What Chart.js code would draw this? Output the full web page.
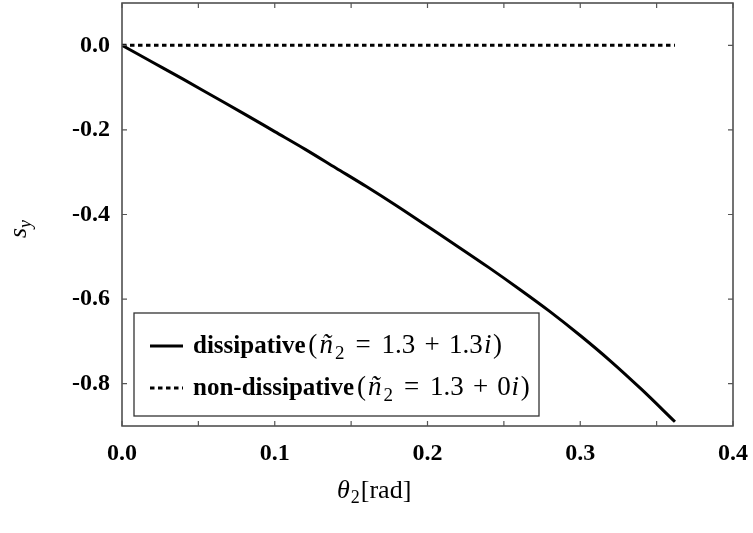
<!DOCTYPE html>
<html>
<head>
<meta charset="utf-8">
<script src="https://cdn.jsdelivr.net/npm/chart.js@4"></script>
<style>
  html, body { margin: 0; padding: 0; background: #fff; }
  #c { display: block; }
</style>
</head>
<body>
<canvas id="c" width="753" height="533"></canvas>
<script>
// ---- data ----
const thetaD = [0, 0.02, 0.04, 0.06, 0.08, 0.10, 0.12, 0.14, 0.16, 0.18, 0.20, 0.22, 0.24, 0.26, 0.28, 0.30, 0.32, 0.34, 0.362];
const sD     = [0, -0.040, -0.080, -0.121, -0.162, -0.204, -0.246, -0.290, -0.334, -0.380, -0.428, -0.476, -0.525, -0.576, -0.629, -0.686, -0.747, -0.813, -0.890];
const thetaN = [0, 0.362];
const sN     = [0, 0];
const seriesLabels = ['dissipative', 'non-dissipative'];
const seriesImag   = ['1.3', '0'];
const xTicks = [0, 0.1, 0.2, 0.3, 0.4];
const xMinorTicks = [0.05, 0.15, 0.25, 0.35];
const yTicks = [0, -0.2, -0.4, -0.6, -0.8];

const SERIF = '"Liberation Serif", "Times New Roman", serif';
const tickFont = { family: SERIF, size: 24, weight: 'bold' };

function drawRich(ctx, x, y, parts) {
  for (const p of parts) {
    x += (p.pre || 0);
    ctx.font = p.font;
    const w = ctx.measureText(p.text).width;
    if (p.box) {
      ctx.fillText(p.text, x + (p.box - w) / 2, y + (p.dy || 0));
      x += p.box + (p.post || 0);
    } else {
      ctx.fillText(p.text, x, y + (p.dy || 0));
      x += w + (p.post || 0);
    }
  }
  return x;
}

// math glyphs laid out in boxes of Computer-Modern-like widths
function mathParts(imag, fs) {
  const it = 'italic ' + fs + 'px ' + SERIF;
  const rm = fs + 'px ' + SERIF;
  const sub = Math.round(fs * 0.7) + 'px ' + SERIF;
  const thick = fs * 0.278, med = fs * 0.222;
  return [
    { text: '(', font: rm, box: fs * 0.389 },
    { text: 'ñ', font: it, box: fs * 0.6 },
    { text: '2', font: sub, dy: fs * 0.22, box: fs * 0.4 },
    { text: '=', font: rm, pre: thick, post: thick, box: fs * 0.778 },
    { text: '1.3', font: rm, box: fs * 1.278 },
    { text: '+', font: rm, pre: med, post: med, box: fs * 0.778 },
    { text: imag, font: rm, box: fs * (imag.length === 1 ? 0.5 : 1.278) },
    { text: 'i', font: it, box: fs * 0.345 },
    { text: ')', font: rm, box: fs * 0.389 }
  ];
}

const framePlugin = {
  id: 'frame',
  afterDraw(chart) {
    const ctx = chart.ctx;
    const ca = chart.chartArea;
    const xs = chart.scales.x, ys = chart.scales.y;
    ctx.save();
    // frame
    ctx.strokeStyle = '#444';
    ctx.lineWidth = 1.5;
    ctx.strokeRect(ca.left, ca.top, ca.right - ca.left, ca.bottom - ca.top);
    // inward ticks
    ctx.lineWidth = 1.2;
    ctx.strokeStyle = '#555';
    const tl = 5;
    ctx.beginPath();
    for (const v of xTicks.concat(xMinorTicks)) {
      const px = xs.getPixelForValue(v);
      ctx.moveTo(px, ca.bottom); ctx.lineTo(px, ca.bottom - tl);
      ctx.moveTo(px, ca.top); ctx.lineTo(px, ca.top + tl);
    }
    for (const v of yTicks) {
      const py = ys.getPixelForValue(v);
      ctx.moveTo(ca.left, py); ctx.lineTo(ca.left + tl, py);
      ctx.moveTo(ca.right, py); ctx.lineTo(ca.right - tl, py);
    }
    ctx.stroke();

    // legend
    const bx = ca.left + 12, by = ca.bottom - 113, bw = 405, bh = 103;
    ctx.fillStyle = '#fff';
    ctx.fillRect(bx, by, bw, bh);
    ctx.strokeStyle = '#333';
    ctx.lineWidth = 1.3;
    ctx.strokeRect(bx, by, bw, bh);
    ctx.fillStyle = '#000';
    ctx.textBaseline = 'alphabetic';
    ctx.textAlign = 'left';
    const rows = [by + 33, by + 75];
    chart.data.datasets.forEach((ds, i) => {
      const ly = rows[i];
      ctx.save();
      ctx.strokeStyle = '#000';
      ctx.lineWidth = 3;
      ctx.setLineDash(ds.borderDash || []);
      ctx.beginPath();
      ctx.moveTo(bx + 16, ly); ctx.lineTo(bx + 49, ly);
      ctx.stroke();
      ctx.restore();
      const tx = drawRich(ctx, bx + 59, ly + 7, [
        { text: seriesLabels[i], font: 'bold 25px ' + SERIF, post: 2 }
      ]);
      drawRich(ctx, tx, ly + 7, mathParts(seriesImag[i], 27));
    });

    // x axis title
    drawRich(ctx, 337, 498, [
      { text: 'θ', font: 'italic 26px ' + SERIF },
      { text: '2', font: '18px ' + SERIF, dy: 5, pre: 1, post: 1 },
      { text: '[rad]', font: '26px ' + SERIF }
    ]);

    // y axis title (rotated)
    ctx.translate(26, 238);
    ctx.rotate(-Math.PI / 2);
    drawRich(ctx, 0, 0, [
      { text: 's', font: 'italic 26px ' + SERIF },
      { text: 'y', font: 'italic 18px ' + SERIF, dy: 5, pre: 0 }
    ]);
    ctx.restore();
  }
};

new Chart(document.getElementById('c'), {
  type: 'line',
  data: {
    datasets: [
      {
        label: seriesLabels[0],
        data: thetaD.map((x, i) => ({ x: x, y: sD[i] })),
        borderColor: '#000',
        borderWidth: 3,
        pointRadius: 0,
        fill: false,
        cubicInterpolationMode: 'monotone'
      },
      {
        label: seriesLabels[1],
        data: thetaN.map((x, i) => ({ x: x, y: sN[i] })),
        borderColor: '#000',
        borderWidth: 3,
        borderDash: [4.5, 3.5],
        borderCapStyle: 'butt',
        pointRadius: 0,
        fill: false
      }
    ]
  },
  options: {
    responsive: false,
    animation: false,
    devicePixelRatio: 1,
    layout: { padding: { top: 3, right: 20, left: 0, bottom: 0 } },
    plugins: { legend: { display: false }, tooltip: { enabled: false } },
    scales: {
      x: {
        type: 'linear',
        min: 0, max: 0.4,
        afterBuildTicks: s => { s.ticks = xTicks.map(v => ({ value: v })); },
        afterFit: s => { s.height = 107; s.paddingLeft = 0; s.paddingRight = 0; },
        ticks: {
          callback: v => Number(v).toFixed(1),
          font: tickFont, color: '#000', padding: 13,
          maxRotation: 0, autoSkip: false
        },
        grid: { display: false, drawTicks: false },
        border: { display: false }
      },
      y: {
        type: 'linear',
        min: -0.9, max: 0.1,
        afterBuildTicks: s => { s.ticks = yTicks.map(v => ({ value: v })); },
        afterFit: s => { s.width = 122; s.paddingTop = 0; s.paddingBottom = 0; },
        ticks: {
          callback: v => Number(v).toFixed(1),
          font: tickFont, color: '#000', padding: 12,
          autoSkip: false
        },
        grid: { display: false, drawTicks: false },
        border: { display: false }
      }
    }
  },
  plugins: [framePlugin]
});
</script>
</body>
</html>
